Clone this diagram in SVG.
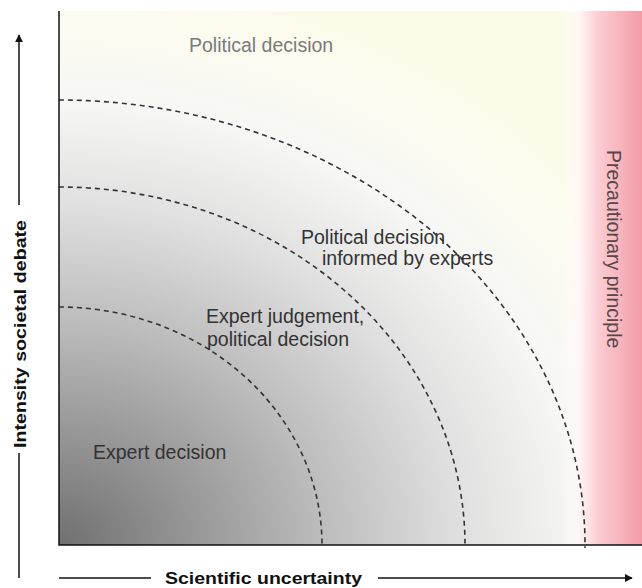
<svg xmlns="http://www.w3.org/2000/svg" width="642" height="588" viewBox="0 0 642 588">
  <style>
    .lbl { font-family: "Liberation Sans", Arial, sans-serif; font-size: 19.5px; fill: #333; }
    .axis-lbl { font-family: "Liberation Sans", Arial, sans-serif; font-weight: bold; font-size: 17px; fill: #111; }
    .arc { fill: none; stroke: #333; stroke-width: 1.6; stroke-dasharray: 5 4; }
    .axis { stroke: #111; stroke-width: 1.5; fill: none; }
  </style>
  <defs>
    <radialGradient id="bg" gradientUnits="userSpaceOnUse" cx="0" cy="0" r="1" gradientTransform="translate(59 545) scale(684 578)">
      <stop offset="0" stop-color="#707070"/>
      <stop offset="0.385" stop-color="#bcbcbc"/>
      <stop offset="0.59" stop-color="#e0e0e0"/>
      <stop offset="0.77" stop-color="#f7f7f5"/>
      <stop offset="0.9" stop-color="#fbfbf0"/>
      <stop offset="1" stop-color="#fcfbe9"/>
    </radialGradient>
    <linearGradient id="pink" gradientUnits="userSpaceOnUse" x1="562" y1="0" x2="642" y2="0">
      <stop offset="0" stop-color="#ffffff" stop-opacity="0"/>
      <stop offset="0.22" stop-color="#fff4f5" stop-opacity="0.9"/>
      <stop offset="0.45" stop-color="#fbcdd3"/>
      <stop offset="1" stop-color="#f49ba7"/>
    </linearGradient>
    <marker id="arrow" viewBox="0 0 10 10" refX="9" refY="5" markerWidth="8" markerHeight="8" markerUnits="userSpaceOnUse" orient="auto">
      <path d="M0,0 L10,5 L0,10 z" fill="#111"/>
    </marker>
  </defs>

  <g id="background">
    <rect x="59" y="11" width="583" height="534" fill="url(#bg)"/>
    <rect x="562" y="11" width="80" height="534" fill="url(#pink)"/>
  </g>

  <g id="connectors">
    <path class="arc" d="M 59 307 A 263 238 0 0 1 322 545"/>
    <path class="arc" d="M 59 187 A 406 358 0 0 1 465 545"/>
    <path class="arc" d="M 59 100 A 526 445 0 0 1 585 548"/>
  </g>

  <g id="frame">
    <path class="axis" d="M 59 11 L 59 545 L 642 545"/>
  </g>

  <g id="node-political">
    <text class="lbl" x="189" y="52" style="fill:#7a7a7a">Political decision</text>
  </g>
  <g id="node-informed">
    <text class="lbl" x="301" y="244">Political decision</text>
    <text class="lbl" x="322" y="265">informed by experts</text>
  </g>
  <g id="node-judgement">
    <text class="lbl" x="206" y="323">Expert judgement,</text>
    <text class="lbl" x="207" y="346">political decision</text>
  </g>
  <g id="node-expert">
    <text class="lbl" x="93" y="459">Expert decision</text>
  </g>
  <g id="node-precaution">
    <text class="lbl" transform="translate(607 150) rotate(90)" x="0" y="0" style="fill:#5a4646">Precautionary principle</text>
  </g>

  <g id="y-axis">
    <line class="axis" x1="19" y1="205" x2="19" y2="35" marker-end="url(#arrow)"/>
    <line class="axis" x1="19" y1="453" x2="19" y2="578"/>
    <text class="axis-lbl" transform="translate(26 448) rotate(-90)" x="0" y="0" textLength="228" lengthAdjust="spacingAndGlyphs">Intensity societal debate</text>
  </g>
  <g id="x-axis">
    <line class="axis" x1="59" y1="578" x2="151" y2="578"/>
    <line class="axis" x1="378" y1="578" x2="632" y2="578" marker-end="url(#arrow)"/>
    <text class="axis-lbl" x="165" y="584" textLength="197" lengthAdjust="spacingAndGlyphs">Scientific uncertainty</text>
  </g>
</svg>
